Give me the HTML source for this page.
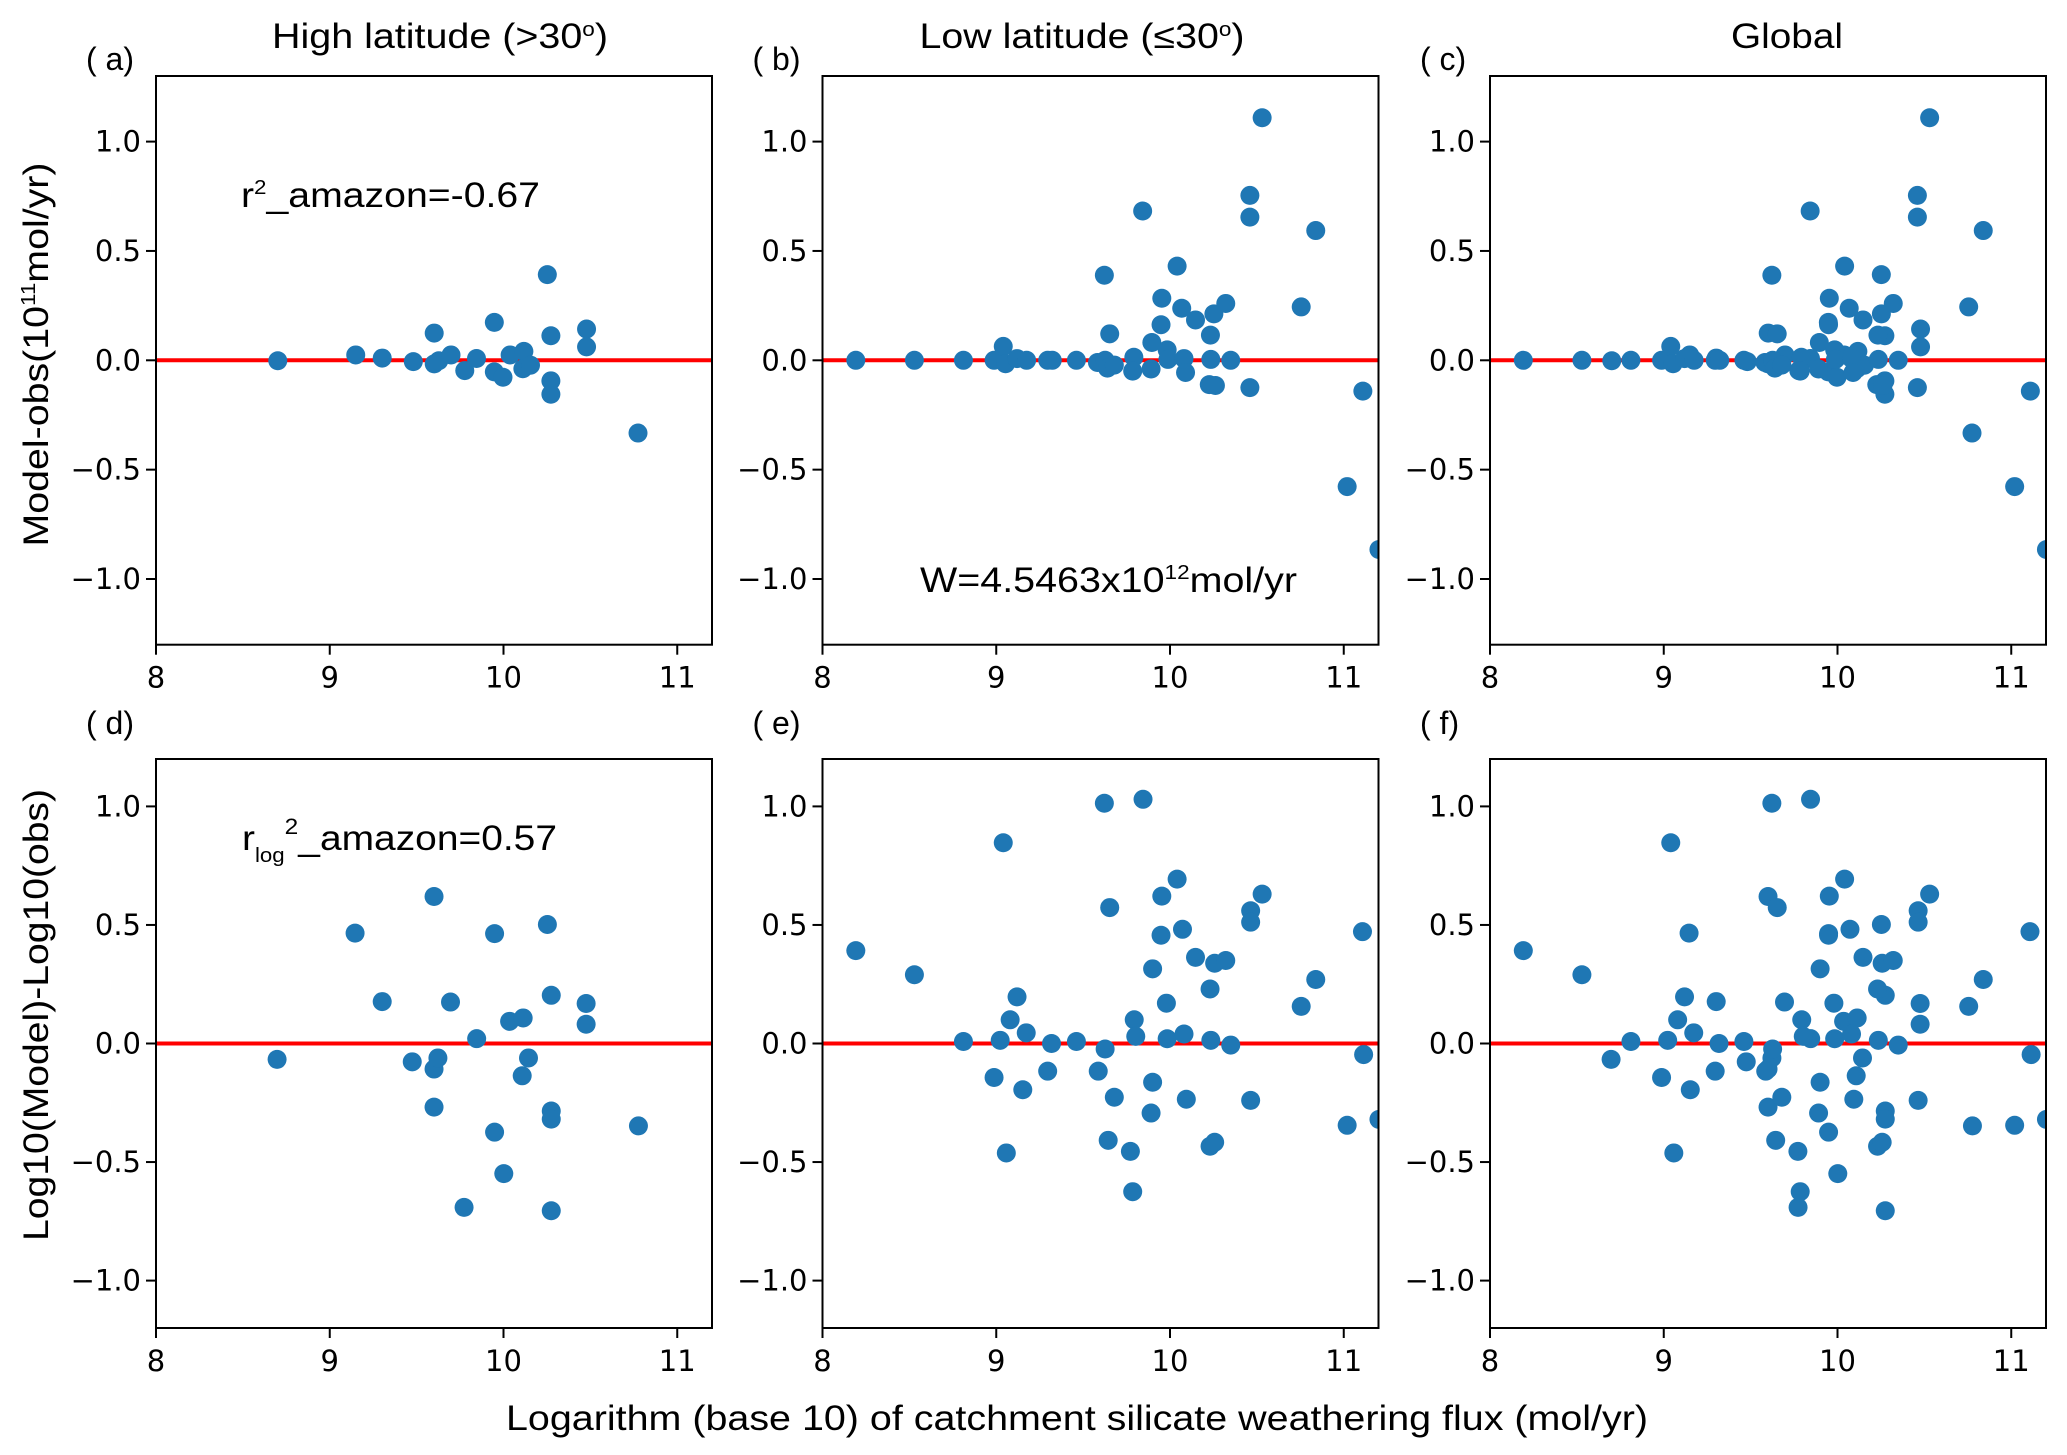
<!DOCTYPE html>
<html><head><meta charset="utf-8"><style>
html,body{margin:0;padding:0;background:#fff;}
svg{display:block;}
text{fill:#000;}
.t{font-family:"Liberation Sans",Arial,sans-serif;}
.k{font-family:"DejaVu Sans","Liberation Sans",sans-serif;font-size:29px;}
</style></head><body>
<svg id="s" xmlns="http://www.w3.org/2000/svg" width="2067" height="1455" viewBox="0 0 2067 1455">
<rect width="2067" height="1455" fill="#fff"/>
<g class="t" font-size="35">
<text x="440" y="48" text-anchor="middle" textLength="336" lengthAdjust="spacingAndGlyphs">High latitude (&gt;30<tspan font-size="20" dy="-12">o</tspan><tspan dy="12">)</tspan></text>
<text x="1082" y="48" text-anchor="middle" textLength="325" lengthAdjust="spacingAndGlyphs">Low latitude (≤30<tspan font-size="20" dy="-12">o</tspan><tspan dy="12">)</tspan></text>
<text x="1787" y="48" text-anchor="middle" textLength="112" lengthAdjust="spacingAndGlyphs">Global</text>
</g>
<g class="t" font-size="35">
<text transform="translate(48,354.5) rotate(-90)" text-anchor="middle" textLength="384" lengthAdjust="spacingAndGlyphs">Model-obs(10<tspan font-size="20" dy="-13">11</tspan><tspan dy="13">mol/yr)</tspan></text>
<text transform="translate(48,1015) rotate(-90)" text-anchor="middle" textLength="452" lengthAdjust="spacingAndGlyphs">Log10(Model)-Log10(obs)</text>
<text x="506" y="1430" textLength="1142" lengthAdjust="spacingAndGlyphs">Logarithm (base 10) of catchment silicate weathering flux (mol/yr)</text>
<text x="241" y="207" textLength="299" lengthAdjust="spacingAndGlyphs">r<tspan font-size="20" dy="-13">2</tspan><tspan dy="13">_amazon=-0.67</tspan></text>
<text x="920" y="592" textLength="377" lengthAdjust="spacingAndGlyphs">W=4.5463x10<tspan font-size="20" dy="-13">12</tspan><tspan dy="13">mol/yr</tspan></text>
<text x="242" y="850" textLength="315" lengthAdjust="spacingAndGlyphs">r<tspan font-size="20" dy="12">log</tspan><tspan font-size="22" dy="-28">2</tspan><tspan dy="16">_amazon=0.57</tspan></text>
</g>
<g id="plots"></g>
</svg>
<script>
(function(){
var NS="http://www.w3.org/2000/svg";
var g=document.getElementById('plots');
function el(t,a,txt){var e=document.createElementNS(NS,t);for(var k in a)e.setAttribute(k,a[k]);if(txt!==undefined)e.textContent=txt;g.appendChild(e);return e;}
var lefts=[156,822.5,1490],W=556;
var rows=[{top:76,bot:644.7,zero:360.3,s:218.7,ticks:[1,0.5,0,-0.5,-1]},{top:759,bot:1328,zero:1043.5,s:237.1,ticks:[1,0.5,0,-0.5,-1]}];
function conv(arr,x0,xs,y0,ys){return arr.map(function(p){return [8+(p[0]-x0)/xs,(y0-p[1])/ys];});}
var a=conv([[544,808],[697,795],[749,802],[810,810],[851,746],[851,815],[860,808],[884,795],[911,830],[934,803],[969,722],[969,833],[986,845],[1000,795],[1027,787],[1025,826],[1040,818],[1073,615],[1080,752],[1080,853],[1080,883],[1150,737],[1150,777],[1251,970]],305,341,807,490);
var b=conv([[149,692],[302,692],[430,692],[510,692],[534,660],[540,700],[570,688],[595,692],[650,692],[662,692],[725,692],[780,697],[800,692],[806,710],[824,703],[875,685],[872,717],[898,348],[798,496],[812,631],[922,651],[920,712],[946,610],[948,549],[962,668],[964,690],[988,475],[1000,572],[1006,688],[1010,720],[1036,599],[1075,634],[1076,690],[1072,748],[1088,750],[1084,585],[1115,561],[1128,692],[1178,312],[1178,362],[1178,755],[1210,133],[1312,569],[1350,393],[1432,983],[1473,763],[1515,1128]],62,453.7,692,504);
var e=conv([[149,533],[302,594],[430,763],[510,854],[526,760],[534,260],[542,1045],[552,708],[570,650],[585,885],[594,741],[650,838],[660,768],[725,763],[782,838],[798,160],[800,782],[808,1013],[812,424],[824,904],[866,1041],[872,1143],[876,708],[880,750],[899,150],[920,944],[924,866],[924,579],[946,494],[948,395],[960,666],[962,756],[988,352],[1002,479],[1006,744],[1012,909],[1036,550],[1074,630],[1076,760],[1074,1028],[1086,1018],[1086,565],[1115,558],[1128,772],[1180,432],[1180,461],[1180,912],[1210,390],[1312,674],[1350,606],[1432,975],[1472,485],[1475,796],[1515,960]],62,453.7,768,600);
var d=conv([[572,746],[733,484],[789,626],[851,751],[896,408],[896,766],[904,743],[896,845],[930,627],[984,703],[1021,485],[1021,897],[1040,983],[958,1053],[1052,667],[1080,660],[1078,780],[1091,743],[1130,466],[1138,613],[1138,853],[1138,870],[1138,1060],[1210,630],[1210,673],[1318,884]],322,358.7,713,492);
var data=[[a,b,a.concat(b)],[d,e,d.concat(e)]];
var labels=[["(a)","(b)","(c)"],["(d)","(e)","(f)"]];
for(var r=0;r<2;r++){var R=rows[r];
 for(var c=0;c<3;c++){var L=lefts[c];
  var clip='cp'+r+c;
  var cp=document.createElementNS(NS,'clipPath');cp.setAttribute('id',clip);
  var rc=document.createElementNS(NS,'rect');rc.setAttribute('x',L);rc.setAttribute('y',R.top);rc.setAttribute('width',W);rc.setAttribute('height',R.bot-R.top);cp.appendChild(rc);g.appendChild(cp);
  el('line',{x1:L,x2:L+W,y1:R.zero,y2:R.zero,stroke:'#ff0000','stroke-width':4,'clip-path':'url(#'+clip+')'});
  var gg=document.createElementNS(NS,'g');gg.setAttribute('clip-path','url(#'+clip+')');g.appendChild(gg);
  data[r][c].forEach(function(p){var ci=document.createElementNS(NS,'circle');ci.setAttribute('cx',L+(p[0]-8)*W/3.2);ci.setAttribute('cy',R.zero-p[1]*R.s);ci.setAttribute('r',9.5);ci.setAttribute('fill','#1f77b4');gg.appendChild(ci);});
  el('rect',{x:L,y:R.top,width:W,height:R.bot-R.top,fill:'none',stroke:'#000','stroke-width':2});
  R.ticks.forEach(function(t){var y=R.zero-t*R.s;el('line',{x1:L-10,x2:L,y1:y,y2:y,stroke:'#000','stroke-width':2});
   var s=(t<0?'\u2212':'')+Math.abs(t).toFixed(1);
   el('text',{x:L-15,y:y+10,'text-anchor':'end','class':'k'},s);});
  [8,9,10,11].forEach(function(v){var x=L+(v-8)*W/3.2;el('line',{x1:x,x2:x,y1:R.bot,y2:R.bot+10,stroke:'#000','stroke-width':2});
   el('text',{x:x,y:R.bot+43,'text-anchor':'middle','class':'k'},String(v));});
  el('text',{x:L-70,y:(r==0?70:734),'class':'t','font-size':'32'},labels[r][c].replace('(','( '));
 }}
})();
</script>
</body></html>
